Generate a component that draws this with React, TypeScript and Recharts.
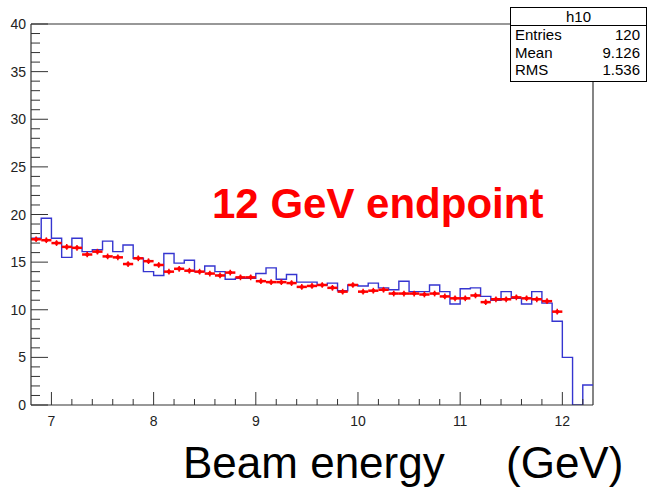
import React from 'react';
import { ComposedChart, Line, Scatter, XAxis, YAxis, ErrorBar, ReferenceLine } from 'recharts';

// binning of h10: 0.1 GeV bins starting at 6.8 GeV
const binLow = 6.8;
const binWidth = 0.1;

// blue histogram contents per bin (6.8 .. 12.3 GeV)
const histCounts = [
  17.5, 19.6, 17.5, 15.5, 17.5, 16.1, 16.3, 17.2, 16.1, 16.8,
  15.4, 14.0, 13.6, 15.9, 14.9, 15.2, 14.0, 14.6, 14.0, 13.2,
  13.3, 13.3, 13.8, 14.4, 13.2, 13.7, 12.9, 12.9, 12.6, 12.8,
  12.0, 12.6, 12.5, 12.8, 12.3, 12.1, 13.0, 11.9, 11.9, 12.6,
  11.9, 10.6, 12.2, 12.3, 11.4, 11.0, 11.9, 11.2, 10.6, 11.9,
  10.7, 8.8, 5.0, 0, 2.1,
];

// red points, one per bin up to the 12 GeV endpoint
const refCounts = [
  17.4, 17.3, 17.0, 16.6, 16.5, 15.8, 16.1, 15.6, 15.5, 14.8,
  15.4, 15.1, 14.7, 14.0, 14.3, 14.1, 14.0, 13.8, 13.6, 13.9,
  13.4, 13.4, 13.0, 12.9, 12.9, 12.8, 12.4, 12.5, 12.6, 12.3,
  11.9, 12.6, 11.9, 12.0, 12.1, 11.7, 11.7, 11.7, 11.6, 11.7,
  11.4, 11.2, 11.2, 11.5, 10.8, 11.1, 11.1, 11.3, 11.2, 11.1,
  10.9, 9.8,
];
const refErr = 0.3;

const xTicks = [
  7, 7.2, 7.4, 7.6, 7.8, 8, 8.2, 8.4, 8.6, 8.8, 9, 9.2, 9.4, 9.6, 9.8,
  10, 10.2, 10.4, 10.6, 10.8, 11, 11.2, 11.4, 11.6, 11.8, 12, 12.2,
];
const yTicks = [
  0, 1, 2, 3, 4, 5, 6, 7, 8, 9, 10, 11, 12, 13, 14, 15, 16, 17, 18, 19, 20,
  21, 22, 23, 24, 25, 26, 27, 28, 29, 30, 31, 32, 33, 34, 35, 36, 37, 38, 39, 40,
];

const statsTitle = 'h10';
const statsNames = ['Entries', 'Mean', 'RMS'];
const statsValues = ['120', '9.126', '1.536'];

const FONT = '"Liberation Sans", Arial, Helvetica, sans-serif';
const AXIS = '#333';
const PLOT_LEFT = 31;
const PLOT_BOTTOM = 405;

const stepData = [
  ...histCounts.map((v, i) => ({ x: +(binLow + i * binWidth).toFixed(2), y: v })),
  { x: +(binLow + histCounts.length * binWidth).toFixed(2), y: histCounts[histCounts.length - 1] },
];

const refData = refCounts.map((v, i) => ({
  x: +(binLow + (i + 0.5) * binWidth).toFixed(3),
  y: v,
  ex: binWidth / 2,
  ey: refErr,
}));

const isMajor = (v: number, step: number) => Math.abs(v / step - Math.round(v / step)) < 1e-6;

// ROOT style: ticks point into the frame, labels only on major ticks
const XTick = (props: any) => {
  const { x, payload } = props;
  const v = payload.value;
  const major = isMajor(v, 1);
  return (
    <g>
      <line x1={x} x2={x} y1={PLOT_BOTTOM} y2={PLOT_BOTTOM - (major ? 13 : 6)} stroke={AXIS} strokeWidth={1} />
      {major && (
        <text x={x} y={PLOT_BOTTOM + 21} textAnchor="middle" fontSize={14} fontFamily={FONT} fill="#222">
          {v}
        </text>
      )}
    </g>
  );
};

const YTick = (props: any) => {
  const { y, payload } = props;
  const v = payload.value;
  const major = isMajor(v, 5);
  return (
    <g>
      <line x1={PLOT_LEFT} x2={PLOT_LEFT + (major ? 17 : 9)} y1={y} y2={y} stroke={AXIS} strokeWidth={1} />
      {major && (
        <text x={26} y={y} dy="0.36em" textAnchor="end" fontSize={14} fontFamily={FONT} fill="#222">
          {v}
        </text>
      )}
    </g>
  );
};

const RefDot = (props: any) => {
  const { cx, cy } = props;
  return <circle cx={cx} cy={cy} r={2} fill="#ff0000" />;
};

export default function App() {
  return (
    <div style={{ position: 'absolute', left: 0, top: 0, width: 648, height: 491, background: '#fff' }}>
      <ComposedChart
        width={648}
        height={491}
        margin={{ top: 24, right: 55, bottom: 56, left: 0 }}
      >
        <XAxis
          type="number"
          dataKey="x"
          domain={[6.8, 12.3]}
          ticks={xTicks}
          interval={0}
          allowDataOverflow
          height={30}
          tickLine={false}
          tick={<XTick />}
          axisLine={{ stroke: AXIS, strokeWidth: 1.2 }}
        />
        <YAxis
          type="number"
          dataKey="y"
          domain={[0, 40]}
          ticks={yTicks}
          interval={0}
          allowDataOverflow
          width={31}
          tickLine={false}
          tick={<YTick />}
          axisLine={{ stroke: AXIS, strokeWidth: 1.2 }}
        />
        <ReferenceLine y={40} stroke={AXIS} strokeWidth={1.2} />
        <ReferenceLine x={12.3} stroke={AXIS} strokeWidth={1.2} />
        <Line
          data={stepData}
          dataKey="y"
          type="stepAfter"
          stroke="#3535d0"
          strokeWidth={1.4}
          dot={false}
          isAnimationActive={false}
        />
        <Scatter data={refData} dataKey="y" fill="#ff0000" shape={<RefDot />} isAnimationActive={false}>
          <ErrorBar dataKey="ex" direction="x" width={0} stroke="#ff0000" strokeWidth={2.5} isAnimationActive={false} />
          <ErrorBar dataKey="ey" direction="y" width={0} stroke="#ff0000" strokeWidth={1.5} isAnimationActive={false} />
        </Scatter>
      </ComposedChart>

      <svg width={648} height={491} style={{ position: 'absolute', left: 0, top: 0, pointerEvents: 'none' }}>
        <text x={212} y={218} fontSize={42} fontWeight="bold" fontFamily={FONT} fill="#ff0000">
          12 GeV endpoint
        </text>
        <text y={478} fontSize={44} fontFamily={FONT} fill="#000">
          <tspan x={183}>Beam energy</tspan>
          <tspan x={506}>(GeV)</tspan>
        </text>
      </svg>

      <div
        style={{
          position: 'absolute',
          left: 510,
          top: 7,
          width: 137,
          height: 75,
          boxSizing: 'border-box',
          border: '1px solid #000',
          background: '#fff',
          fontFamily: FONT,
          fontSize: 15,
          color: '#000',
        }}
      >
        <div style={{ height: 17, lineHeight: '17px', textAlign: 'center', borderBottom: '1px solid #000' }}>
          {statsTitle}
        </div>
        {statsNames.map((name, i) => (
          <div key={name} style={{ display: 'flex', justifyContent: 'space-between', height: 17.5, lineHeight: '17.5px', padding: '0 6px 0 4px' }}>
            <span>{name}</span>
            <span>{statsValues[i]}</span>
          </div>
        ))}
      </div>
    </div>
  );
}
